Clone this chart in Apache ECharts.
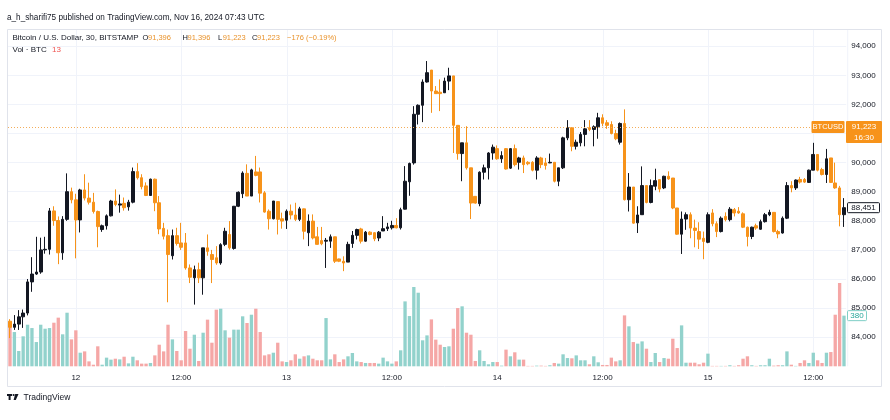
<!DOCTYPE html>
<html><head><meta charset="utf-8">
<script src="https://cdn.jsdelivr.net/npm/echarts@6/dist/echarts.min.js"></script>
<style>html,body{margin:0;padding:0;background:#fff}#c{width:890px;height:420px}</style>
</head><body><div id="c"></div>
<script>
// ---- data (30-min candles, BITSTAMP BTC/USD, Nov 11 16:30 -> Nov 15 15:30) ----
const startTime = Date.UTC(2024, 10, 11, 16, 30);
const candleCount = 191;
const categories = Array.from({length: candleCount}, (_, i) => {
  const d = new Date(startTime + i * 1800000);
  const p = n => String(n).padStart(2, '0');
  return p(d.getUTCMonth() + 1) + '-' + p(d.getUTCDate()) + ' ' + p(d.getUTCHours()) + ':' + p(d.getUTCMinutes());
});
const openP = [
84550,84340,84450,84700,84830,85900,86170,86240,87000,87020,
88340,88010,86900,88050,89000,88720,88030,89060,88780,88640,
88320,87700,87830,88170,88680,88540,88600,88480,88640,89690,
89480,89200,88870,89430,88620,87740,87490,86800,87490,87240,
87240,86380,86040,86320,86040,87070,86840,86730,86550,87190,
87530,87050,88500,88930,89630,88850,89680,89680,88960,88330,
88070,88660,88070,88020,88330,88200,88050,88410,87590,87990,
87450,87320,87300,87300,87450,86690,86610,86580,87220,87500,
87720,87300,87610,87590,87410,87650,87730,87760,87840,87760,
88400,89340,89990,91660,91970,92770,93180,92460,92420,92400,
92800,92980,91280,90310,90680,89820,88840,88590,89670,89820,
90330,90480,90130,90480,89810,90480,90010,90160,90010,90010,
89740,90160,89990,89990,90010,89360,89820,90850,91200,90560,
90680,90970,91200,91140,91230,91540,91370,91310,91000,90700,
91345,88725,89160,87930,88210,89210,88630,89190,89415,89130,
89530,89470,88440,87540,88060,88210,87750,87630,87400,87260,
88270,87900,87630,88150,88040,88380,88330,88240,87780,87460,
87830,87710,87970,88210,88290,87630,87580,88090,89210,89130,
89420,89420,89320,89740,90280,89760,89590,90160,89300,89130,
88210];
const closeP = [
84340,84450,84700,84830,85900,86170,86240,87000,87020,88340,
88010,86900,88050,89000,88720,88030,89060,88780,88640,88320,
87800,87830,88170,88680,88560,88580,88450,88640,89690,89480,
89170,88870,89430,88620,87720,87470,86840,87490,87220,87090,
86380,86060,86320,86040,87070,86950,86670,86550,87180,87640,
87070,88500,88980,89640,88850,89750,89560,88950,88300,88070,
88680,88050,87990,88330,88200,88050,88410,87640,87990,87410,
87190,87210,87330,87450,86610,86610,86550,87190,87500,87700,
87300,87610,87530,87380,87610,87730,87790,87840,87760,88380,
89360,89970,91660,91970,92770,93090,92460,92370,92370,92800,
92980,91280,90310,90680,89820,88610,88610,89670,89820,90330,
90530,90130,90240,89780,90480,89930,90160,89930,89960,89740,
90160,89930,89900,90010,89360,89820,90850,91200,90560,90700,
90970,91160,91140,91230,91540,91350,91280,91000,90820,91345,
88725,89160,87920,88200,89210,88630,89210,89380,89090,89530,
89440,88440,87540,88060,88210,87750,87670,87370,87290,88210,
87900,87630,88090,88040,88400,88270,88270,87780,87460,87780,
87750,87970,88210,88290,87630,87550,88090,89210,89130,89400,
89330,89330,89740,90280,89740,89590,90130,89320,89130,88210,
88451];
const lowP = [
83970,84250,84250,84320,84750,85560,86140,86180,86870,86840,
87830,86510,86660,88000,88600,86710,87600,88700,88560,88250,
87090,87620,87700,88150,88500,88280,88350,88350,88600,89420,
89080,88850,88870,88330,87540,87360,85200,86670,87150,87000,
86320,85860,85120,85860,85460,86800,85860,86490,86490,87130,
87010,87010,88470,88780,88850,88850,89530,88630,88280,87700,
88050,87530,87730,87720,88050,87990,87990,87360,87130,87360,
87180,87160,86380,87070,86550,86580,86270,86580,87070,87360,
87220,87280,87500,87300,87300,87650,87650,87700,87740,87700,
88390,88860,89930,91310,91390,92750,91710,92360,91770,92400,
92490,90330,90100,89360,89760,88060,88590,88500,89420,89420,
90100,90100,89990,89760,89780,89870,89760,89640,89910,89700,
89420,89810,89760,89980,89320,89190,89780,90770,90390,90450,
90560,90560,91080,90560,90820,91250,91160,90970,90770,90620,
88700,88320,87900,87580,88210,88600,88600,89050,88980,89090,
89410,88400,87520,86860,87690,87400,87090,87030,86680,87230,
87810,87440,87600,87980,87980,88150,88240,87750,87120,87370,
87690,87690,87940,88160,87600,87400,87560,88060,88980,89060,
89280,89300,89300,89740,89700,89560,89300,89300,89100,87810,
87790];
const highP = [
84620,84760,84930,84950,86000,86750,87450,87420,87450,88440,
88500,88150,88160,89630,89140,88930,89100,89600,89310,88960,
88350,87870,88220,88720,89080,88900,88800,88720,89830,89980,
89600,89320,89450,89450,88850,87930,87700,87700,87760,87930,
87580,86500,86460,86560,87070,87530,87000,87130,87230,87760,
87990,88510,89010,89700,89940,89790,90230,89830,89020,88390,
88680,88660,88280,88390,88560,88620,88480,88420,88220,88220,
87790,87790,87410,87530,87450,86700,86780,87280,87650,87730,
87760,87650,87640,87610,87650,88160,87930,88000,88090,88450,
89880,90000,91940,92000,92860,93490,93180,92630,92860,92920,
93260,92980,91280,90680,91250,89820,88840,89700,89930,90360,
90620,90590,90390,90500,90500,90620,90200,90240,90050,90050,
90220,90200,90160,90310,90010,89820,90890,91460,91200,90790,
91050,91460,91460,91280,91710,91660,91460,91420,91130,91380,
91830,89640,89160,88500,89870,89210,89420,89790,89415,89550,
89700,89470,88440,88320,88290,88290,88040,87950,87630,88290,
88400,87980,88150,88290,88470,88440,88470,88290,87800,87800,
87900,88040,88270,88380,88290,87690,88150,89330,89360,89420,
89510,89470,89760,90680,90280,89820,90470,90160,90000,89200,
88780];
const volumeBTC = [
307,257,115,225,312,287,182,312,282,287,
327,365,240,402,202,270,102,112,37,12,
150,12,65,50,57,52,72,22,72,45,
20,20,25,82,162,112,312,202,115,45,
265,132,237,40,252,350,177,425,432,270,
215,275,275,375,325,387,432,257,82,90,
102,177,37,32,45,90,57,75,82,57,
45,45,362,52,90,32,52,75,100,37,
32,25,25,25,20,65,37,20,37,120,
487,377,595,552,195,232,352,200,162,145,
150,282,437,450,252,237,40,120,40,15,
32,32,5,125,75,105,50,50,3,3,
5,5,3,8,25,20,90,62,60,82,
45,45,15,75,30,10,10,65,37,45,
382,300,182,170,187,132,32,100,32,62,
57,207,137,307,27,27,27,15,27,95,
3,3,3,3,8,3,8,57,75,8,
3,8,8,57,5,8,8,112,12,3,
25,45,25,102,45,25,102,107,387,625,
380];
const priceTicks = [84000, 85000, 86000, 87000, 88000, 89000, 90000, 91000, 92000, 93000, 94000];
const lastPrice = 91223;
const lastVisibleClose = 88451;
const lastVolume = 380;

// ---- build ----
const UP = '#131722', DOWN = '#f7931a';
const VUP = '#92d2cc', VDOWN = '#f5a7a6';
const candleData = categories.map((_, i) => [openP[i], closeP[i], lowP[i], highP[i]]);
const volData = volumeBTC.map((v, i) => ({value: v, itemStyle: {color: closeP[i] >= openP[i] ? VUP : VDOWN}}));
const isMajor = v => v.endsWith('00:00') || v.endsWith('12:00');
const fmtTime = v => v.endsWith('00:00') ? String(parseInt(v.slice(3, 5), 10)) : (v.endsWith('12:00') ? '12:00' : '');
const FONT = '"Liberation Sans", Arial, sans-serif';
const gridL = 7.8, gridR = 43.8, gridTop = 29.5, gridBottom = 53.7;

const chart = echarts.init(document.getElementById('c'), null, {renderer: 'canvas'});
const option = {
  animation: false,
  backgroundColor: '#ffffff',
  textStyle: {fontFamily: FONT},
  grid: [
    {left: gridL, right: gridR, top: gridTop, bottom: gridBottom},
    {left: gridL, right: gridR, top: 233, bottom: gridBottom}
  ],
  xAxis: [
    {type: 'category', data: categories, gridIndex: 0, boundaryGap: true,
     axisLine: {show: false}, axisTick: {show: false},
     axisLabel: {interval: (i, v) => isMajor(v), formatter: fmtTime, color: '#131722', fontSize: 8, margin: 7, fontFamily: FONT},
     splitLine: {show: false}},
    {type: 'category', data: categories, gridIndex: 1, boundaryGap: true,
     axisLine: {show: false}, axisTick: {show: false}, axisLabel: {show: false}, splitLine: {show: false}}
  ],
  yAxis: [
    {type: 'value', gridIndex: 0, position: 'right', min: 83000, max: 94574, interval: 1000,
     axisLine: {show: false}, axisTick: {show: false},
     axisLabel: {color: '#131722', fontSize: 8, margin: 5, fontFamily: FONT,
       showMaxLabel: false, showMinLabel: false,
       formatter: v => priceTicks.includes(v) ? v.toLocaleString('en-US') : ''},
     splitLine: {show: true, showMaxLine: false, showMinLine: false, lineStyle: {color: '#f0f3fa', width: 1}}},
    {type: 'value', gridIndex: 1, min: 0, max: 1000, show: false, splitLine: {show: false}}
  ],
  series: [
    {type: 'bar', name: 'Vol', xAxisIndex: 1, yAxisIndex: 1, data: volData, barWidth: '76%', z: 1, silent: true},
    {type: 'candlestick', name: 'BTCUSD', xAxisIndex: 0, yAxisIndex: 0, data: candleData, barWidth: '70%', z: 3,
     itemStyle: {color: UP, color0: DOWN, borderColor: UP, borderColor0: DOWN, borderWidth: 1}}
  ]
};
chart.setOption(option);

// overlays positioned through the chart's own scales
const yLast = chart.convertToPixel({yAxisIndex: 0}, lastPrice);
const yClose = chart.convertToPixel({yAxisIndex: 0}, lastVisibleClose);
const yVol = chart.convertToPixel({yAxisIndex: 1}, lastVolume);
const plotRight = 890 - gridR;
const yBottom = 420 - gridBottom;
const vLines = categories.map((c, i) => isMajor(c) ? i : -1).filter(i => i >= 0).map(i => {
  const x = Math.round(chart.convertToPixel({xAxisIndex: 0}, categories[i])) + 0.5;
  return {type: 'line', silent: true, z: -1, shape: {x1: x, y1: 30, x2: x, y2: yBottom}, style: {stroke: '#f0f3fa', lineWidth: 1}};
});
const txt = (x, y, s, fill, size) => ({type: 'text', x, y, silent: true,
  style: {text: s, fill, font: (size || 8) + 'px ' + FONT, textVerticalAlign: 'middle'}});
const hdr = 38, ORG = '#e9932c';
chart.setOption({graphic: vLines.concat([
  // frame
  {type: 'rect', shape: {x: 7.5, y: 29.5, width: 874, height: 357}, style: {fill: 'none', stroke: '#e0e3eb', lineWidth: 1}, z: 0},
  {type: 'line', shape: {x1: plotRight + 1.5, y1: 30, x2: plotRight + 1.5, y2: yBottom}, style: {stroke: '#f0f3fa', lineWidth: 1}, z: 0},
  // last price dotted line
  {type: 'line', shape: {x1: 8, y1: Math.round(yLast) + 0.5, x2: 812, y2: Math.round(yLast) + 0.5}, style: {stroke: '#f3ad5a', lineWidth: 1, lineDash: [1, 2]}, z: 5},
  // header
  txt(7, 18, 'a_h_sharifi75 published on TradingView.com, Nov 16, 2024 07:43 UTC', '#131722', 8.2),
  txt(12.5, hdr, 'Bitcoin / U.S. Dollar, 30, BITSTAMP', '#131722', 8),
  txt(142.5, hdr, 'O', '#131722', 7.5), txt(148, hdr, '91,396', ORG, 7.5),
  txt(182.5, hdr, 'H', '#131722', 7.5), txt(187.5, hdr, '91,396', ORG, 7.5),
  txt(218, hdr, 'L', '#131722', 7.5), txt(222.7, hdr, '91,223', ORG, 7.5),
  txt(252, hdr, 'C', '#131722', 7.5), txt(257, hdr, '91,223', ORG, 7.5),
  txt(287, hdr, '\u2212176 (\u22120.19%)', ORG, 7.5),
  txt(12.5, 50, 'Vol \u00b7 BTC', '#131722', 8), txt(52, 50, '13', '#ef5350', 8),
  // BTCUSD label + price box
  {type: 'rect', shape: {x: 811.5, y: yLast - 6, width: 33, height: 12, r: 1}, style: {fill: '#f7931a'}, z: 10},
  {type: 'text', x: 828, y: yLast, z: 11, style: {text: 'BTCUSD', fill: '#ffffff', font: '7.5px ' + FONT, textAlign: 'center', textVerticalAlign: 'middle'}},
  {type: 'rect', shape: {x: 846, y: yLast - 6, width: 36, height: 22, r: 1}, style: {fill: '#f7931a'}, z: 10},
  {type: 'text', x: 864, y: yLast, z: 11, style: {text: '91,223', fill: '#ffffff', font: '8px ' + FONT, textAlign: 'center', textVerticalAlign: 'middle'}},
  {type: 'text', x: 864, y: yLast + 10.5, z: 11, style: {text: '16:30', fill: '#ffffff', font: '8px ' + FONT, textAlign: 'center', textVerticalAlign: 'middle'}},
  // last visible close box
  {type: 'rect', shape: {x: 847.5, y: yClose - 5, width: 32, height: 10, r: 1}, style: {fill: '#ffffff', stroke: '#131722', lineWidth: 1}, z: 10},
  {type: 'text', x: 863.5, y: yClose, z: 11, style: {text: '88,451', fill: '#131722', font: '8px ' + FONT, textAlign: 'center', textVerticalAlign: 'middle'}},
  // volume box
  {type: 'rect', shape: {x: 847.5, y: yVol - 5, width: 19, height: 10, r: 1}, style: {fill: '#ffffff', stroke: '#7fcfc6', lineWidth: 1}, z: 10},
  {type: 'text', x: 857, y: yVol, z: 11, style: {text: '380', fill: '#26a69a', font: '8px ' + FONT, textAlign: 'center', textVerticalAlign: 'middle'}},
  // TradingView logo
  {type: 'rect', shape: {x: 7, y: 394, width: 5, height: 2}, style: {fill: '#131722'}},
  {type: 'rect', shape: {x: 8.6, y: 394, width: 2, height: 6}, style: {fill: '#131722'}},
  {type: 'circle', shape: {cx: 13.6, cy: 395, r: 1.1}, style: {fill: '#131722'}},
  {type: 'polygon', shape: {points: [[15.2, 394], [18.5, 394], [15.8, 400], [13.6, 400]]}, style: {fill: '#131722'}},
  txt(23.5, 397.5, 'TradingView', '#131722', 8.5)
])});
</script>
</body></html>
